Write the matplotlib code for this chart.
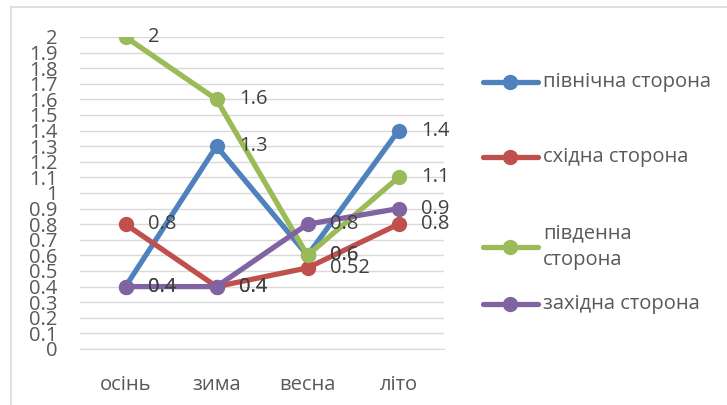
import matplotlib.pyplot as plt
from matplotlib.lines import Line2D

plt.rcParams['font.family'] = ['Open Sans', 'DejaVu Sans']

seasons = ['осінь', 'зима', 'весна', 'літо']
north = [0.4, 1.3, 0.6, 1.4]
east = [0.8, 0.4, 0.52, 0.8]
south = [2, 1.6, 0.6, 1.1]
west = [0.4, 0.4, 0.8, 0.9]
names = ['північна сторона', 'східна сторона', 'південна\nсторона', 'західна сторона']
colors = ['#4f81bd', '#c0504d', '#9bbb59', '#8064a2']
yticks = [i / 10 for i in range(21)]
ytick_labels = ['0'] + ['%.1f' % t for t in yticks[1:10]] + ['1'] + ['%.1f' % t for t in yticks[11:20]] + ['2']

txt = '#595959'
fs = 14.5
fig = plt.figure(figsize=(7.27, 4.05), dpi=100)
ax = fig.add_axes([80 / 727, 56 / 405, 364 / 727, 312 / 405])

x = range(len(seasons))
for vals, c in zip([north, east, south, west], colors):
    ax.plot(x, vals, color=c, lw=3.8, marker='o', ms=10, solid_capstyle='round')
    for xi, v in zip(x, vals):
        ax.annotate('%g' % v, (xi, v), xytext=(16, 0), textcoords='offset points',
                    va='center', ha='left', fontsize=fs, color='#404040')

ax.set_xlim(-0.5, 3.5)
ax.set_ylim(0, 2)
ax.set_yticks(yticks)
ax.set_yticklabels(ytick_labels)
ax.set_xticks(list(x))
ax.set_xticklabels(seasons)
ax.tick_params(length=0, labelsize=fs, colors=txt)
ax.tick_params(axis='y', pad=16)
ax.tick_params(axis='x', pad=19)
ax.grid(axis='y', color='#d9d9d9', lw=1)
ax.set_axisbelow(True)
for s in ['left', 'right', 'top']:
    ax.spines[s].set_visible(False)
ax.spines['bottom'].set_color('#d9d9d9')

# legend drawn by hand so the entries sit where the chart puts them
legend_y = [82, 157, 247, 304]
for name, c, yy in zip(names, colors, legend_y):
    fy = 1 - yy / 405
    fig.add_artist(Line2D([483 / 727, 538 / 727], [fy, fy], color=c, lw=3.8,
                          solid_capstyle='round'))
    fig.add_artist(Line2D([510 / 727], [fy], color=c, marker='o', ms=10))
    fig.text(543 / 727, fy, name, va='center', ha='left', fontsize=fs, color=txt,
             linespacing=1.45)

# chart frame
fig.add_artist(Line2D([10.5 / 727, 10.5 / 727], [0, 1 - 7 / 405], color='#d9d9d9', lw=1.2))
fig.add_artist(Line2D([10.5 / 727, 1], [1 - 7 / 405, 1 - 7 / 405], color='#d9d9d9', lw=1.2))

fig.savefig('out.png', dpi=100)
